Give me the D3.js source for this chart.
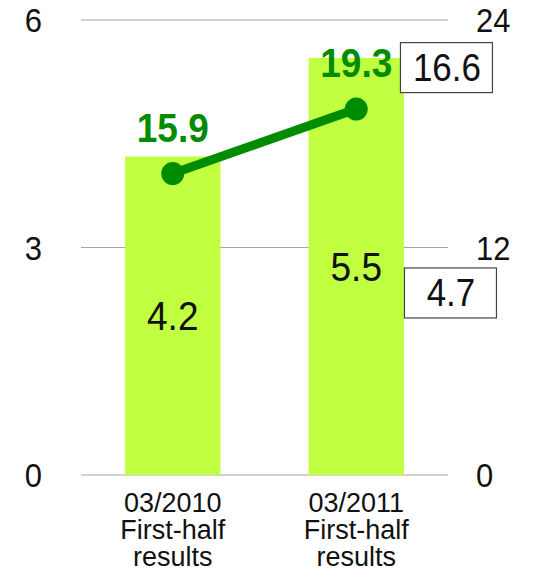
<!DOCTYPE html>
<html><head><meta charset="utf-8">
<script src="https://cdn.jsdelivr.net/npm/d3@7"></script>
<style>body{margin:0;background:#fff}svg{display:block}text{font-family:"Liberation Sans",Arial,sans-serif}</style>
</head><body>
<script>
const categories = [["03/2010","First-half","results"],["03/2011","First-half","results"]];
const barValues = [4.2, 5.5];
const lineValues = [15.9, 19.3];
const leftTicks = [0, 3, 6];
const rightTicks = [0, 12, 24];
const boxLabels = ["16.6", "4.7"];

const W = 549, H = 569;
const m = {left: 81, right: 101, top: 20, bottom: 94};
const svg = d3.select("body").append("svg").attr("width", W).attr("height", H);

const x = d3.scaleBand().domain(d3.range(categories.length)).range([m.left, W - m.right]).paddingInner(0.48).paddingOuter(0.24);
const yL = d3.scaleLinear().domain([0, 6]).range([H - m.bottom, m.top]);
const yR = d3.scaleLinear().domain([0, 24]).range([H - m.bottom, m.top]);
const SY = 1.1;
const tr = (px, py) => `translate(${px},${py}) scale(1,${SY})`;

// gridlines
svg.append("g").selectAll("line").data(leftTicks).join("line")
  .attr("x1", m.left).attr("x2", W - m.right)
  .attr("y1", d => yL(d)).attr("y2", d => yL(d))
  .attr("stroke", "#a6a6a6").attr("stroke-width", 1.2);

// left axis labels
svg.append("g").selectAll("text").data(leftTicks).join("text")
  .attr("transform", d => tr(42, yL(d))).attr("dy", "0.36em")
  .attr("text-anchor", "end").attr("font-size", 31).attr("fill", "#111").text(d => d);
// right axis labels
svg.append("g").selectAll("text").data(rightTicks).join("text")
  .attr("transform", d => tr(476, yR(d))).attr("dy", "0.36em")
  .attr("text-anchor", "start").attr("font-size", 31).attr("fill", "#111").text(d => d);

// bars
svg.append("g").selectAll("rect").data(barValues).join("rect")
  .attr("x", (d, i) => x(i)).attr("width", x.bandwidth())
  .attr("y", d => yL(d)).attr("height", d => yL(0) - yL(d))
  .attr("fill", "#c1ff41");

// bar value labels
svg.append("g").selectAll("text").data(barValues).join("text")
  .attr("transform", (d, i) => tr(x(i) + x.bandwidth() / 2, (yL(d) + yL(0)) / 2)).attr("dy", "0.36em")
  .attr("text-anchor", "middle").attr("font-size", 37).attr("fill", "#111").text(d => d.toFixed(1));

// line
const cx = i => x(i) + x.bandwidth() / 2;
svg.append("path").datum(lineValues)
  .attr("d", d3.line().x((d, i) => cx(i)).y(d => yR(d)))
  .attr("fill", "none").attr("stroke", "#008c00").attr("stroke-width", 9);
svg.append("g").selectAll("circle").data(lineValues).join("circle")
  .attr("cx", (d, i) => cx(i)).attr("cy", d => yR(d)).attr("r", 11.5).attr("fill", "#008c00");
svg.append("g").selectAll("text").data(lineValues).join("text")
  .attr("transform", (d, i) => tr(cx(i), yR(d) - 32))
  .attr("text-anchor", "middle").attr("font-size", 37).attr("font-weight", "bold")
  .attr("fill", "#008c00").text(d => d.toFixed(1));

// annotation boxes (right of second bar)
const bx = x(1) + x.bandwidth();
const boxTops = [yR(lineValues[1]) - 67, (yL(barValues[1]) + yL(0)) / 2 + 1];
const boxW = 92, boxH = 50;
boxLabels.forEach((t, i) => {
  const g = svg.append("g");
  const x0 = bx - 4 + i * 4;
  g.append("rect").attr("x", x0 + 0.5).attr("y", boxTops[i] + 0.5).attr("width", boxW).attr("height", boxH)
    .attr("fill", "#fff").attr("stroke", "#444").attr("stroke-width", 1.2);
  g.append("text").attr("transform", tr(x0 + boxW / 2 + 1, boxTops[i] + boxH / 2)).attr("dy", "0.36em")
    .attr("text-anchor", "middle").attr("font-size", 35).attr("fill", "#111").text(t);
});

// category labels
svg.append("g").selectAll("text").data(categories).join("text")
  .attr("x", (d, i) => cx(i)).attr("y", H - m.bottom + 37)
  .attr("text-anchor", "middle").attr("font-size", 27).attr("fill", "#111")
  .each(function(d) {
    d3.select(this).selectAll("tspan").data(d).join("tspan")
      .attr("x", d3.select(this).attr("x")).attr("dy", (s, j) => j === 0 ? 0 : 27).text(s => s);
  });
</script>
</body></html>
